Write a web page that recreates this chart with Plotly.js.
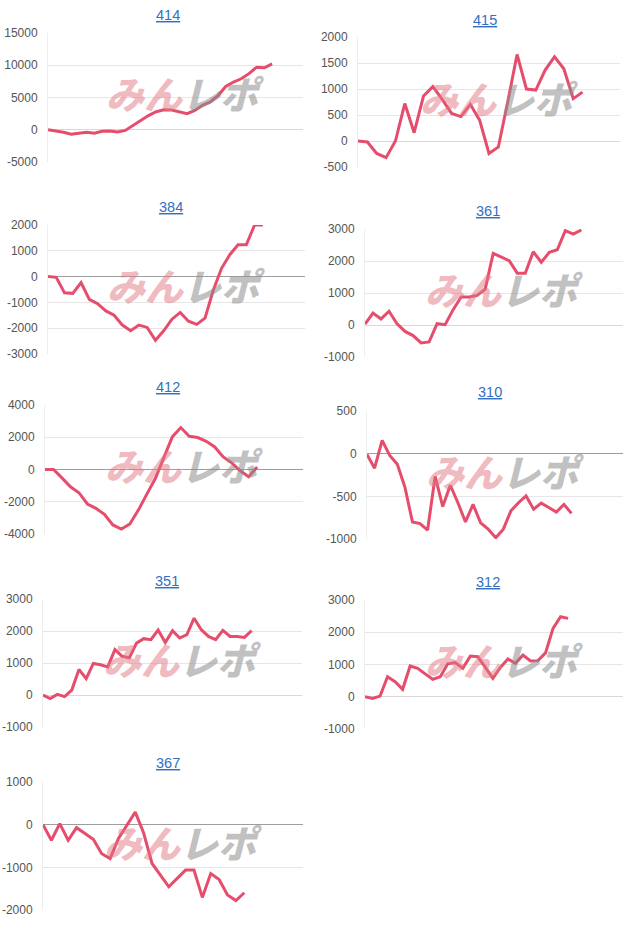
<!DOCTYPE html>
<html>
<head>
<meta charset="utf-8">
<script src="https://cdn.plot.ly/plotly-3.0.1.min.js"></script>
<style>html,body{margin:0;padding:0;background:#fff;}#chart{width:640px;height:931px;}</style>
</head>
<body>
<div id="chart"></div>
<script>
// ---- data ----
const titles = ["414", "415", "384", "361", "412", "310", "351", "312", "367"];

const s414 = [0, -150, -400, -700, -550, -400, -550, -250, -200, -350, -100, 700, 1500, 2200, 2800, 3100, 3050, 2800, 2500, 3000, 3800, 4300, 5300, 6700, 7400, 7900, 8700, 9700, 9600, 10200];
const s415 = [0, -20, -240, -320, 0, 720, 160, 865, 1045, 800, 530, 470, 705, 400, -240, -115, 750, 1665, 1000, 980, 1365, 1620, 1390, 815, 940];
const s384 = [0, -30, -630, -650, -230, -880, -1050, -1330, -1500, -1880, -2100, -1880, -1970, -2470, -2100, -1650, -1390, -1730, -1850, -1610, -530, 320, 850, 1230, 1230, 2000, 2000];
const s361 = [30, 375, 190, 430, 40, -200, -330, -560, -530, 40, 10, 480, 875, 875, 925, 1120, 2240, 2115, 2010, 1620, 1620, 2290, 1960, 2270, 2350, 2950, 2840, 2970];
const s412 = [0, 0, -520, -1070, -1440, -2140, -2410, -2780, -3440, -3690, -3380, -2520, -1530, -560, 740, 2020, 2600, 2060, 1980, 1750, 1400, 780, 410, -80, -450, 160];
const s310 = [-10, -170, 155, -20, -125, -390, -800, -820, -895, -265, -620, -370, -575, -800, -595, -810, -885, -985, -885, -670, -575, -495, -650, -580, -630, -685, -595, -700];
const s351 = [0, -110, 20, -50, 155, 800, 510, 985, 945, 880, 1420, 1210, 1160, 1620, 1760, 1730, 2030, 1640, 2010, 1780, 1890, 2400, 2040, 1830, 1730, 2020, 1830, 1830, 1800, 2010];
const s312 = [0, -50, 20, 620, 465, 230, 955, 880, 710, 540, 620, 1020, 1060, 880, 1260, 1240, 910, 570, 910, 1170, 1035, 1290, 1110, 1120, 1360, 2120, 2480, 2430];
const s367 = [0, -365, 25, -365, -70, -210, -340, -680, -795, -325, -15, 295, -195, -910, -1180, -1455, -1260, -1065, -1065, -1705, -1145, -1285, -1650, -1780, -1595];

const series = [s414, s415, s384, s361, s412, s310, s351, s312, s367];
const yRanges = [[-5000, 15000], [-500, 2000], [-3000, 2000], [-1000, 3000], [-4000, 4000], [-1000, 500], [-1000, 3000], [-1000, 3000], [-2000, 1000]];
const yTicks = [5000, 500, 1000, 1000, 2000, 500, 1000, 1000, 1000];

// ---- layout geometry (pixels) ----
const W = 640, H = 931;
const boxes = [
  {L: 48, R: 303, T: 33, B: 162, xr: 33, tx: 168, ty: 15, dark: false},
  {L: 358, R: 620, T: 37, B: 167, xr: 28, tx: 485, ty: 20, dark: false},
  {L: 48, R: 305, T: 225, B: 354, xr: 31.1, tx: 171, ty: 207, dark: true},
  {L: 365, R: 623, T: 229, B: 357, xr: 32.2, tx: 488, ty: 211, dark: false},
  {L: 45, R: 303, T: 405, B: 534, xr: 30.4, tx: 168, ty: 387, dark: true},
  {L: 367, R: 623, T: 411, B: 539, xr: 33.8, tx: 490, ty: 392, dark: true},
  {L: 43, R: 302, T: 599, B: 727, xr: 36, tx: 167, ty: 581, dark: false},
  {L: 365, R: 623, T: 600, B: 729, xr: 34.3, tx: 488, ty: 582, dark: false},
  {L: 43, R: 303, T: 782, B: 910, xr: 31, tx: 168, ty: 763, dark: true}
];

const lineColor = '#e64d6d';
const gridColor = '#e6e6e6';
const traces = [];
const layout = {
  width: W, height: H,
  margin: {l: 0, r: 0, t: 0, b: 0},
  paper_bgcolor: '#fff', plot_bgcolor: 'rgba(0,0,0,0)',
  showlegend: false,
  font: {family: 'Arial, "Liberation Sans", sans-serif', size: 12, color: '#555'},
  annotations: []
};

series.forEach((vals, i) => {
  const b = boxes[i];
  const n = i + 1;
  const sfx = n === 1 ? '' : String(n);
  const [lo, hi] = yRanges[i];
  const tv = [];
  for (let v = lo; v <= hi; v += yTicks[i]) tv.push(v);
  traces.push({
    type: 'scatter', mode: 'lines',
    x: vals.map((_, k) => k), y: vals,
    xaxis: 'x' + sfx, yaxis: 'y' + sfx,
    line: {color: lineColor, width: 3},
    hoverinfo: 'skip'
  });
  layout['xaxis' + sfx] = {
    domain: [b.L / W, b.R / W], range: [0, b.xr],
    anchor: 'y' + sfx,
    showgrid: false, zeroline: false, showticklabels: false, ticks: '', showline: false, fixedrange: true
  };
  layout['yaxis' + sfx] = {
    domain: [1 - b.B / H, 1 - b.T / H], range: yRanges[i],
    anchor: 'x' + sfx,
    tickmode: 'array', tickvals: tv, ticktext: tv.map(v => String(v)),
    showgrid: true, gridcolor: gridColor, gridwidth: 1,
    zeroline: true, zerolinecolor: b.dark ? '#9e9e9e' : '#d9d9d9', zerolinewidth: 1,
    showline: true, linecolor: '#eeeeee', linewidth: 1,
    ticks: 'outside', ticklen: 7, tickcolor: 'rgba(0,0,0,0)',
    tickfont: {family: 'Arial, "Liberation Sans", sans-serif', size: 12, color: '#555'},
    fixedrange: true
  };
  // chart title (link style)
  layout.annotations.push({
    xref: 'paper', yref: 'paper', x: b.tx / W, y: 1 - b.ty / H,
    xanchor: 'center', yanchor: 'middle', showarrow: false,
    text: '<u>' + titles[i] + '</u>',
    font: {family: 'Arial, "Liberation Sans", sans-serif', size: 14.5, color: '#3470c0'}
  });
  // watermark
  const cx = (b.L + b.R) / 2 + 10, cy = (b.T + b.B) / 2 - 5;
  layout.annotations.push({
    xref: 'paper', yref: 'paper', x: cx / W, y: 1 - cy / H,
    xanchor: 'center', yanchor: 'middle', showarrow: false,
    text: '<i><span style="color:rgba(226,120,130,0.5)">みん</span><span style="color:rgba(140,140,140,0.55)">レポ</span></i>',
    font: {family: '"Noto Sans CJK JP", sans-serif', size: 38, weight: 900}
  });
});

Plotly.newPlot('chart', traces, layout, {staticPlot: true, displayModeBar: false});
</script>
</body>
</html>
